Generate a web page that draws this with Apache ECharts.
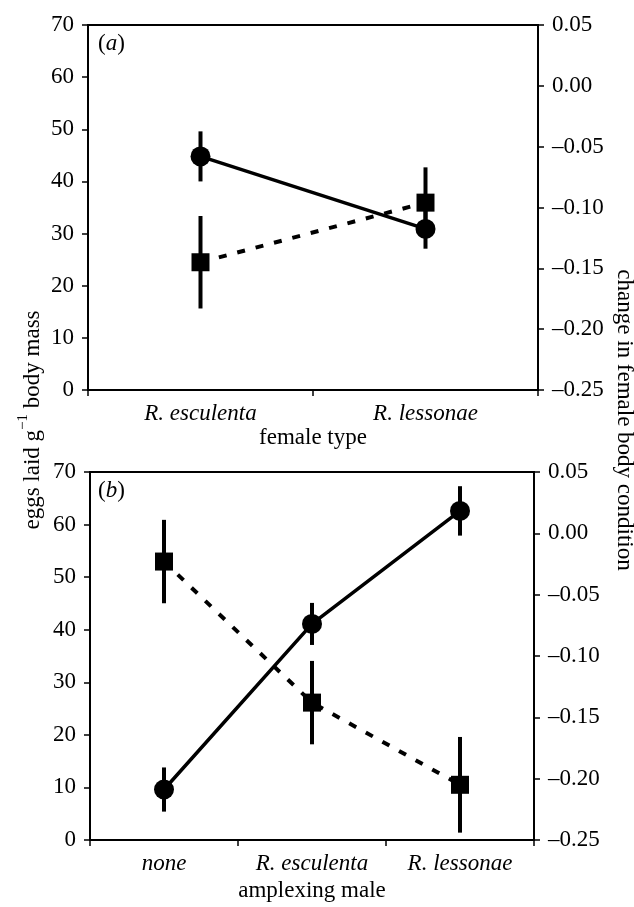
<!DOCTYPE html>
<html><head><meta charset="utf-8">
<script src="https://cdn.jsdelivr.net/npm/echarts@6/dist/echarts.min.js"></script>
<style>html,body{margin:0;padding:0;background:#fff}#c{width:634px;height:907px}</style>
</head><body><div id="c"></div>
<script>
// ---- data ----
const topCategories = ['R. esculenta', 'R. lessonae'];
const topEggs = [44.8, 30.9];
const topEggsErr = [4.8, 3.8];
const topCondition = [-0.145, -0.096];
const topConditionErr = [0.038, 0.029];

const bottomCategories = ['none', 'R. esculenta', 'R. lessonae'];
const bottomEggs = [9.6, 41.1, 62.6];
const bottomEggsErr = [4.2, 4.0, 4.7];
const bottomCondition = [-0.023, -0.138, -0.205];
const bottomConditionErr = [0.034, 0.034, 0.039];

const eggsAxis = { min: 0, max: 70, interval: 10 };
const conditionAxis = { min: -0.25, max: 0.05, interval: 0.05 };

const leftAxisName = 'eggs laid g';
const leftAxisSup = '\u22121';
const leftAxisRest = ' body mass';
const rightAxisName = 'change in female body condition';
const topXName = 'female type';
const bottomXName = 'amplexing male';
const panelLabels = ['a', 'b'];

// ---- helpers ----
const FONT = 'Liberation Serif';
const chart = echarts.init(document.getElementById('c'), null, { renderer: 'canvas' });

function fmtCond(v) {
  if (Math.abs(v) < 1e-9) return '0.00';
  return (v < 0 ? '\u2013' : '') + Math.abs(v).toFixed(2);
}

function errData(means, errs) {
  return means.map((m, i) => [i, m - errs[i], m + errs[i]]);
}

function errSeries(means, errs, xi, yi) {
  return {
    type: 'custom',
    xAxisIndex: xi, yAxisIndex: yi,
    z: 1,
    silent: true,
    data: errData(means, errs),
    encode: { x: 0, y: [1, 2] },
    renderItem: function (params, api) {
      const x = api.value(0);
      const p1 = api.coord([x, api.value(1)]);
      const p2 = api.coord([x, api.value(2)]);
      return {
        type: 'line',
        shape: { x1: p1[0], y1: p1[1], x2: p2[0], y2: p2[1] },
        style: { stroke: '#000', lineWidth: 4 }
      };
    }
  };
}

function lineSeries(values, xi, yi, symbol, size, dashed) {
  return {
    type: 'line',
    xAxisIndex: xi, yAxisIndex: yi,
    data: values,
    z: 3,
    symbol: symbol,
    symbolSize: size,
    showSymbol: true,
    silent: true,
    itemStyle: { color: '#000', borderWidth: 0 },
    lineStyle: { color: '#000', width: dashed ? 4 : 3.5, type: dashed ? [8, 11] : 'solid', cap: 'butt' },
    animation: false
  };
}

function xAxisCfg(gi, cats) {
  return {
    type: 'category', gridIndex: gi, data: cats, boundaryGap: true,
    axisLine: { lineStyle: { color: '#000', width: 2 } },
    axisTick: { show: true, length: 6, inside: false, alignWithLabel: false, lineStyle: { color: '#000', width: 1.5 } },
    axisLabel: { color: '#000', fontFamily: FONT, fontSize: 23, fontStyle: 'italic', margin: 12, interval: 0 },
    splitLine: { show: false }
  };
}

function yLeftCfg(gi) {
  return {
    type: 'value', gridIndex: gi, position: 'left',
    min: eggsAxis.min, max: eggsAxis.max, interval: eggsAxis.interval,
    axisLine: { show: true, lineStyle: { color: '#000', width: 2 } },
    axisTick: { show: true, length: 6, inside: false, lineStyle: { color: '#000', width: 1.5 } },
    axisLabel: { color: '#000', fontFamily: FONT, fontSize: 23, margin: 14 },
    splitLine: { show: false }
  };
}

function yRightCfg(gi) {
  return {
    type: 'value', gridIndex: gi, position: 'right',
    min: conditionAxis.min, max: conditionAxis.max, interval: conditionAxis.interval,
    axisLine: { show: true, lineStyle: { color: '#000', width: 2 } },
    axisTick: { show: true, length: 6, inside: false, lineStyle: { color: '#000', width: 1.5 } },
    axisLabel: { color: '#000', fontFamily: FONT, fontSize: 23, margin: 14, formatter: fmtCond },
    splitLine: { show: false }
  };
}

function panelText(letter, x, y) {
  return {
    type: 'text', left: x, top: y,
    style: {
      text: '{n|(}{i|' + letter + '}{n|)}',
      rich: {
        n: { fontFamily: FONT, fontSize: 23, fill: '#000' },
        i: { fontFamily: FONT, fontSize: 23, fontStyle: 'italic', fill: '#000' }
      }
    }
  };
}

const option = {
  backgroundColor: '#fff',
  animation: false,
  grid: [
    { left: 88, top: 25, width: 450, height: 365, show: true, borderColor: '#000', borderWidth: 2, backgroundColor: 'transparent', containLabel: false },
    { left: 90, top: 472, width: 444, height: 368, show: true, borderColor: '#000', borderWidth: 2, backgroundColor: 'transparent', containLabel: false }
  ],
  xAxis: [xAxisCfg(0, topCategories), xAxisCfg(1, bottomCategories)],
  yAxis: [yLeftCfg(0), yRightCfg(0), yLeftCfg(1), yRightCfg(1)],
  series: [
    errSeries(topEggs, topEggsErr, 0, 0),
    errSeries(topCondition, topConditionErr, 0, 1),
    lineSeries(topEggs, 0, 0, 'circle', 20, false),
    lineSeries(topCondition, 0, 1, 'rect', 18, true),
    errSeries(bottomEggs, bottomEggsErr, 1, 2),
    errSeries(bottomCondition, bottomConditionErr, 1, 3),
    lineSeries(bottomEggs, 1, 2, 'circle', 20, false),
    lineSeries(bottomCondition, 1, 3, 'rect', 18, true)
  ],
  graphic: [
    panelText(panelLabels[0], 98, 32),
    panelText(panelLabels[1], 98, 479),
    {
      type: 'text', x: 313, y: 438,
      style: { text: topXName, fontFamily: FONT, fontSize: 23, fill: '#000', align: 'center', verticalAlign: 'middle' }
    },
    {
      type: 'text', x: 312, y: 891,
      style: { text: bottomXName, fontFamily: FONT, fontSize: 23, fill: '#000', align: 'center', verticalAlign: 'middle' }
    },
    {
      type: 'text', x: 30, y: 420, rotation: Math.PI / 2,
      style: {
        text: '{n|' + leftAxisName + '}{s|' + leftAxisSup + '}{n|' + leftAxisRest + '}',
        align: 'center', verticalAlign: 'middle',
        rich: {
          n: { fontFamily: FONT, fontSize: 23, fill: '#000', lineHeight: 28, verticalAlign: 'bottom' },
          s: { fontFamily: FONT, fontSize: 15, fill: '#000', lineHeight: 28, verticalAlign: 'top' }
        }
      }
    },
    {
      type: 'text', x: 624, y: 420, rotation: -Math.PI / 2,
      style: { text: rightAxisName, fontFamily: FONT, fontSize: 23, fill: '#000', align: 'center', verticalAlign: 'middle' }
    }
  ]
};
chart.setOption(option);
</script>
</body></html>
